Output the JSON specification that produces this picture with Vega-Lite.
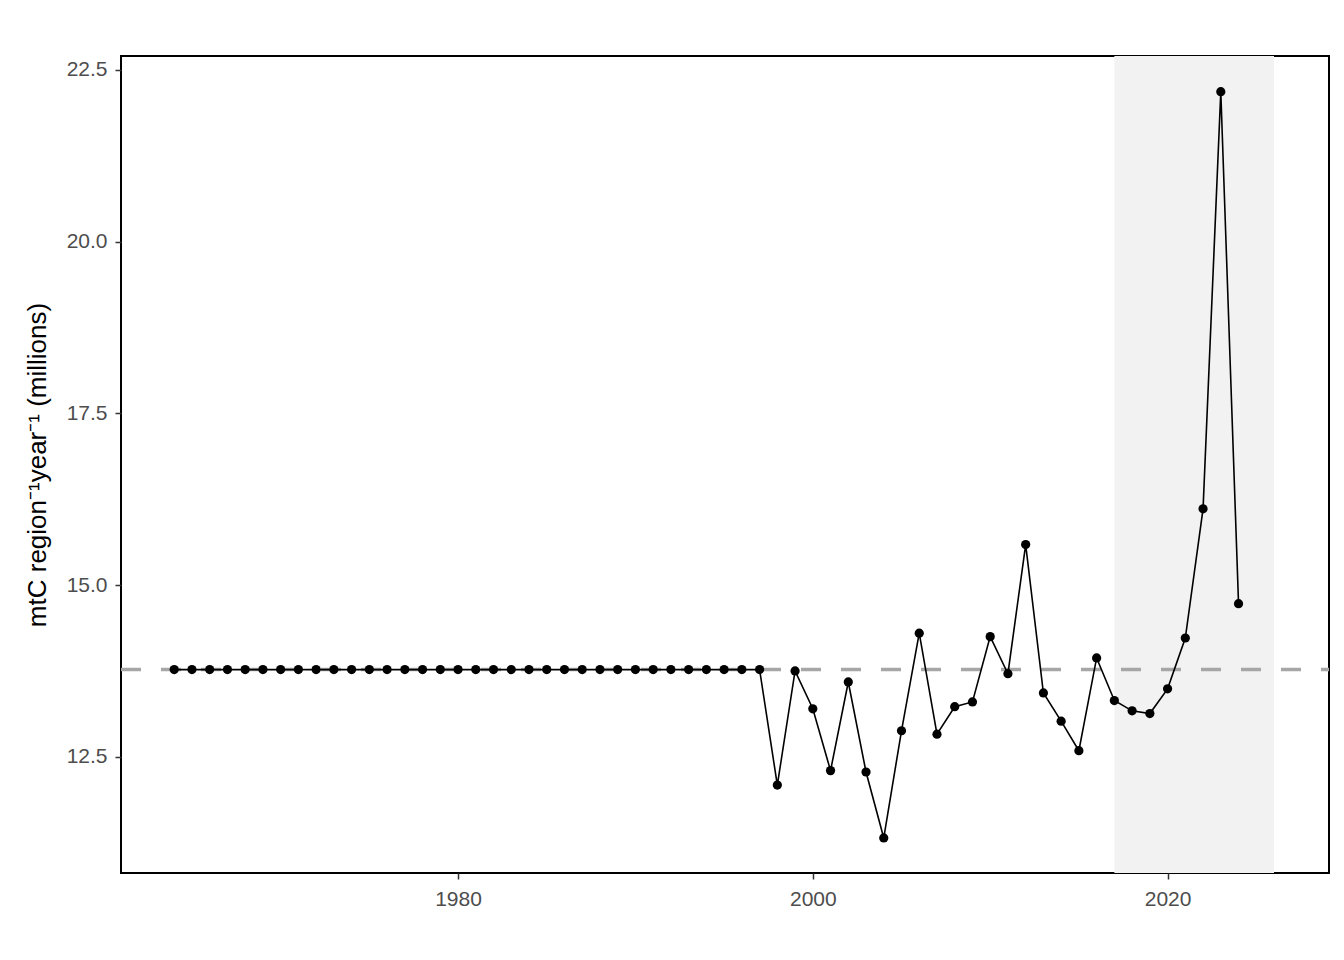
{
  "$schema": "https://vega.github.io/schema/vega-lite/v6.json",
  "width": 1208,
  "height": 817,
  "autosize": {"type": "none"},
  "padding": {"left": 121, "top": 56, "right": 15, "bottom": 87},
  "background": "white",
  "config": {
    "view": {"stroke": "black", "strokeWidth": 2},
    "font": "Liberation Sans",
    "axis": {
      "domain": false,
      "grid": false,
      "tickColor": "#333333",
      "tickSize": 6,
      "tickWidth": 1.5,
      "labelColor": "#4D4D4D",
      "labelFontSize": 21,
      "labelFont": "Liberation Sans",
      "titleFont": "Liberation Sans",
      "titleFontSize": 26,
      "titleFontWeight": "normal",
      "titleColor": "black"
    }
  },
  "datasets": {
    "series": [
      {"year": 1964, "value": 13.77}, {"year": 1965, "value": 13.77}, {"year": 1966, "value": 13.77},
      {"year": 1967, "value": 13.77}, {"year": 1968, "value": 13.77}, {"year": 1969, "value": 13.77},
      {"year": 1970, "value": 13.77}, {"year": 1971, "value": 13.77}, {"year": 1972, "value": 13.77},
      {"year": 1973, "value": 13.77}, {"year": 1974, "value": 13.77}, {"year": 1975, "value": 13.77},
      {"year": 1976, "value": 13.77}, {"year": 1977, "value": 13.77}, {"year": 1978, "value": 13.77},
      {"year": 1979, "value": 13.77}, {"year": 1980, "value": 13.77}, {"year": 1981, "value": 13.77},
      {"year": 1982, "value": 13.77}, {"year": 1983, "value": 13.77}, {"year": 1984, "value": 13.77},
      {"year": 1985, "value": 13.77}, {"year": 1986, "value": 13.77}, {"year": 1987, "value": 13.77},
      {"year": 1988, "value": 13.77}, {"year": 1989, "value": 13.77}, {"year": 1990, "value": 13.77},
      {"year": 1991, "value": 13.77}, {"year": 1992, "value": 13.77}, {"year": 1993, "value": 13.77},
      {"year": 1994, "value": 13.77}, {"year": 1995, "value": 13.77}, {"year": 1996, "value": 13.77},
      {"year": 1997, "value": 13.77}, {"year": 1998, "value": 12.09}, {"year": 1999, "value": 13.75},
      {"year": 2000, "value": 13.2}, {"year": 2001, "value": 12.3}, {"year": 2002, "value": 13.59},
      {"year": 2003, "value": 12.28}, {"year": 2004, "value": 11.32}, {"year": 2005, "value": 12.88},
      {"year": 2006, "value": 14.3}, {"year": 2007, "value": 12.83}, {"year": 2008, "value": 13.23},
      {"year": 2009, "value": 13.3}, {"year": 2010, "value": 14.25}, {"year": 2011, "value": 13.71},
      {"year": 2012, "value": 15.59}, {"year": 2013, "value": 13.43}, {"year": 2014, "value": 13.02},
      {"year": 2015, "value": 12.59}, {"year": 2016, "value": 13.94}, {"year": 2017, "value": 13.32},
      {"year": 2018, "value": 13.17}, {"year": 2019, "value": 13.13}, {"year": 2020, "value": 13.49},
      {"year": 2021, "value": 14.23}, {"year": 2022, "value": 16.11}, {"year": 2023, "value": 22.18},
      {"year": 2024, "value": 14.73}
    ],
    "band": [{"start": 2017, "end": 2026}],
    "ref": [{"mean": 13.77}]
  },
  "layer": [
    {
      "data": {"name": "band"},
      "mark": {"type": "rect", "color": "#F2F2F2"},
      "encoding": {
        "x": {"field": "start", "type": "quantitative"},
        "x2": {"field": "end"}
      }
    },
    {
      "data": {"name": "ref"},
      "mark": {"type": "rule", "color": "#A6A6A6", "strokeWidth": 3.5, "strokeDash": [20, 20], "strokeDashOffset": 12},
      "encoding": {
        "y": {"field": "mean", "type": "quantitative"}
      }
    },
    {
      "data": {"name": "series"},
      "mark": {"type": "line", "color": "black", "strokeWidth": 1.6},
      "encoding": {
        "x": {"field": "year", "type": "quantitative"},
        "y": {"field": "value", "type": "quantitative"}
      }
    },
    {
      "data": {"name": "series"},
      "mark": {"type": "point", "filled": true, "color": "black", "opacity": 1, "size": 85},
      "encoding": {
        "x": {
          "field": "year", "type": "quantitative",
          "scale": {"domain": [1961, 2029.1], "nice": false, "zero": false},
          "axis": {"title": null, "values": [1980, 2000, 2020], "format": "d", "labelPadding": 9}
        },
        "y": {
          "field": "value", "type": "quantitative",
          "scale": {"domain": [10.81, 22.7], "nice": false, "zero": false},
          "axis": {
            "title": "mtC region⁻¹year⁻¹ (millions)",
            "values": [12.5, 15, 17.5, 20, 22.5],
            "format": ".1f",
            "labelPadding": 8,
            "titlePadding": 16
          }
        }
      }
    }
  ]
}
